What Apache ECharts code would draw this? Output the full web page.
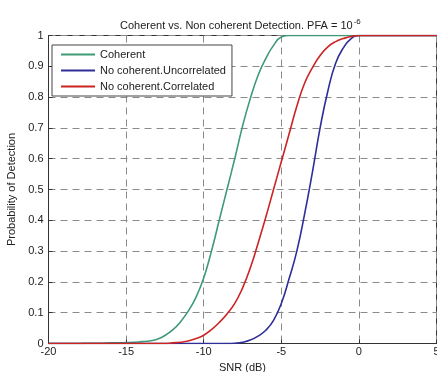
<!DOCTYPE html>
<html>
<head>
<meta charset="utf-8">
<script src="https://cdn.jsdelivr.net/npm/echarts@6/dist/echarts.min.js"></script>
<style>
  html, body { margin: 0; padding: 0; background: #fff; }
  #chart { width: 437px; height: 372px; }
</style>
</head>
<body>
<div id="chart"></div>
<script>
// SNR axis (dB), 0.5 dB steps
const snr = [];
for (let v = -20; v <= 5; v += 0.5) snr.push(v);

// values
const coherent = [
  0, 0, 0, 0, 0, 0.001, 0.001, 0.001, 0.002, 0.002,
  0.003, 0.004, 0.006, 0.008, 0.014, 0.026, 0.044, 0.07, 0.105, 0.15,
  0.213, 0.30, 0.40, 0.50, 0.60, 0.705, 0.795, 0.87, 0.925, 0.968,
  0.995, 1, 1, 1, 1, 1, 1, 1, 1, 1,
  1, 1, 1, 1, 1, 1, 1, 1, 1, 1, 1
];
const uncorrelated = [
  0, 0, 0, 0, 0, 0, 0, 0, 0, 0,
  0, 0, 0, 0, 0, 0, 0, 0, 0, 0,
  0, 0, 0, 0, 0.001, 0.004, 0.011, 0.024, 0.043, 0.075,
  0.13, 0.21, 0.30, 0.42, 0.555, 0.70, 0.82, 0.91, 0.96, 0.99,
  1, 1, 1, 1, 1, 1, 1, 1, 1, 1, 1
];
const correlated = [
  0, 0, 0, 0, 0, 0, 0, 0, 0, 0,
  0, 0, 0, 0, 0, 0, 0.002, 0.004, 0.008, 0.016,
  0.027, 0.045, 0.068, 0.096, 0.13, 0.18, 0.245, 0.325, 0.41, 0.50,
  0.59, 0.68, 0.77, 0.845, 0.895, 0.935, 0.963, 0.98, 0.99, 0.997,
  1, 1, 1, 1, 1, 1, 1, 1, 1, 1, 1
];

const seriesNames = ['Coherent', 'No coherent.Uncorrelated', 'No coherent.Correlated'];
const seriesColors = ['#3f9a78', '#2e2e98', '#cc2323'];
const seriesValues = [coherent, uncorrelated, correlated];

const font = 'Liberation Sans, Arial, sans-serif';
const gridLine = { show: true, lineStyle: { color: '#8a8a8a', type: [7, 5], width: 1 } };

const chart = echarts.init(document.getElementById('chart'));
chart.setOption({
  animation: false,
  title: {
    text: '{a|Coherent vs. Non coherent Detection. PFA = 10}{s|-6}',
    left: 115,
    top: 13,
    textStyle: {
      fontWeight: 'normal',
      rich: {
        a: { fontFamily: font, fontSize: 11, fontWeight: 'normal', color: '#222' },
        s: { fontFamily: font, fontSize: 8, fontWeight: 'normal', color: '#222', verticalAlign: 'top', padding: [0, 0, 8, 1] }
      }
    }
  },
  legend: {
    orient: 'vertical',
    left: 52,
    top: 45,
    data: seriesNames,
    icon: 'rect',
    itemWidth: 34,
    itemHeight: 2,
    itemGap: 5,
    padding: [4, 6, 4, 9],
    backgroundColor: '#fff',
    borderColor: '#444',
    borderWidth: 1,
    borderRadius: 0,
    textStyle: { fontFamily: font, fontSize: 11, color: '#222' }
  },
  grid: {
    left: 48.5, right: 0.5, top: 35.5, bottom: 28.5,
    outerBoundsMode: 'none',
    containLabel: false,
    show: true, borderColor: '#333', borderWidth: 1
  },
  xAxis: {
    type: 'value',
    min: -20, max: 5, interval: 5,
    name: 'SNR (dB)',
    nameLocation: 'middle',
    nameGap: 15,
    nameTextStyle: { fontFamily: font, fontSize: 11, color: '#222' },
    axisLine: { show: true, onZero: false, lineStyle: { color: '#333' } },
    axisTick: { show: true, inside: true, length: 4, lineStyle: { color: '#333' } },
    axisLabel: { fontFamily: font, fontSize: 11, color: '#222', margin: 3, showMaxLabel: true },
    splitLine: gridLine
  },
  yAxis: {
    type: 'value',
    min: 0, max: 1, interval: 0.1,
    name: 'Probability of Detection',
    nameLocation: 'middle',
    nameGap: 29,
    nameTextStyle: { fontFamily: font, fontSize: 11, color: '#222' },
    axisLine: { show: true, onZero: false, lineStyle: { color: '#333' } },
    axisTick: { show: true, inside: true, length: 4, lineStyle: { color: '#333' } },
    axisLabel: { fontFamily: font, fontSize: 11, color: '#222', margin: 5,
      formatter: v => String(Math.round(v * 10) / 10) },
    splitLine: gridLine
  },
  series: seriesNames.map((name, i) => ({
    name,
    type: 'line',
    data: snr.map((x, j) => [x, seriesValues[i][j]]),
    showSymbol: false,
    smooth: 0.5,
    lineStyle: { width: 1.6, color: seriesColors[i] },
    itemStyle: { color: seriesColors[i] },
    z: 3 + i
  }))
});
</script>
</body>
</html>
